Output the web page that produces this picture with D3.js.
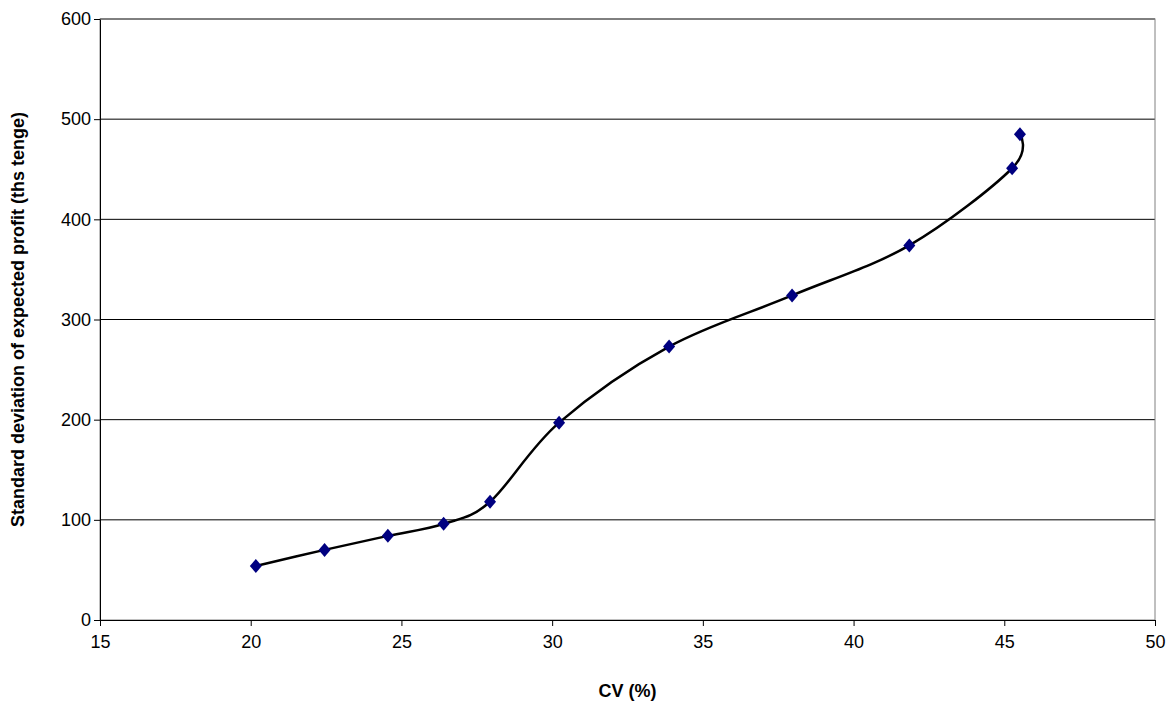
<!DOCTYPE html>
<html><head><meta charset="utf-8">
<script src="https://cdn.jsdelivr.net/npm/d3@7"></script>
<style>body{margin:0;background:#fff}text{font-family:"Liberation Sans",Arial,sans-serif}</style>
</head><body><svg id="c" width="1172" height="706"></svg>
<script>
const cv = [20.17,22.45,24.55,26.4,27.94,30.23,33.88,37.96,41.85,45.26,45.52];
const sd = [54,70,84,96,118,197,273,324,374,451,485];
const xTicks = [15,20,25,30,35,40,45,50];
const yTicks = [0,100,200,300,400,500,600];
const svg = d3.select("#c");
const L=100,R=1155,T=19,B=620;
const x=d3.scaleLinear().domain([15,50]).range([L,R]);
const y=d3.scaleLinear().domain([0,600]).range([B,T]);
svg.append("g").selectAll("line").data(yTicks.slice(1)).join("line")
 .attr("x1",L).attr("x2",R).attr("y1",d=>y(d)).attr("y2",d=>y(d)).attr("stroke","#000").attr("stroke-width",1);
svg.append("rect").attr("x",L).attr("y",T).attr("width",R-L).attr("height",B-T).attr("fill","none").attr("stroke","#808080");
const xa=svg.append("g").attr("transform",`translate(0,${B})`).call(d3.axisBottom(x).tickValues(xTicks).tickSize(6).tickSizeOuter(0));
const ya=svg.append("g").attr("transform",`translate(${L},0)`).call(d3.axisLeft(y).tickValues(yTicks).tickSize(6).tickSizeOuter(0));
[xa,ya].forEach(a=>{a.selectAll("text").attr("font-size",18).attr("fill","#000").style("font-family","Liberation Sans, Arial");a.select(".domain").attr("stroke","#000");a.selectAll("line").attr("stroke","#000");});
xa.selectAll("text").attr("dy","1.05em");
const pts=cv.map((v,i)=>[x(v),y(sd[i])]);
svg.append("path").attr("d",d3.line().curve(d3.curveCardinal.tension(0))(pts)).attr("fill","none").attr("stroke","#000").attr("stroke-width",2.5);
svg.append("g").selectAll("path").data(pts).join("path")
 .attr("d",d=>`M${d[0]},${d[1]-7}L${d[0]+6},${d[1]}L${d[0]},${d[1]+7}L${d[0]-6},${d[1]}Z`).attr("fill","#000080");
svg.append("text").attr("x",(L+R)/2).attr("y",697).attr("text-anchor","middle").attr("font-size",18).attr("font-weight","bold").text("CV (%)");
svg.append("text").attr("transform",`translate(24,${(T+B)/2}) rotate(-90)`).attr("text-anchor","middle").attr("font-size",18).attr("font-weight","bold").text("Standard deviation of expected profit (ths tenge)");
</script></body></html>
